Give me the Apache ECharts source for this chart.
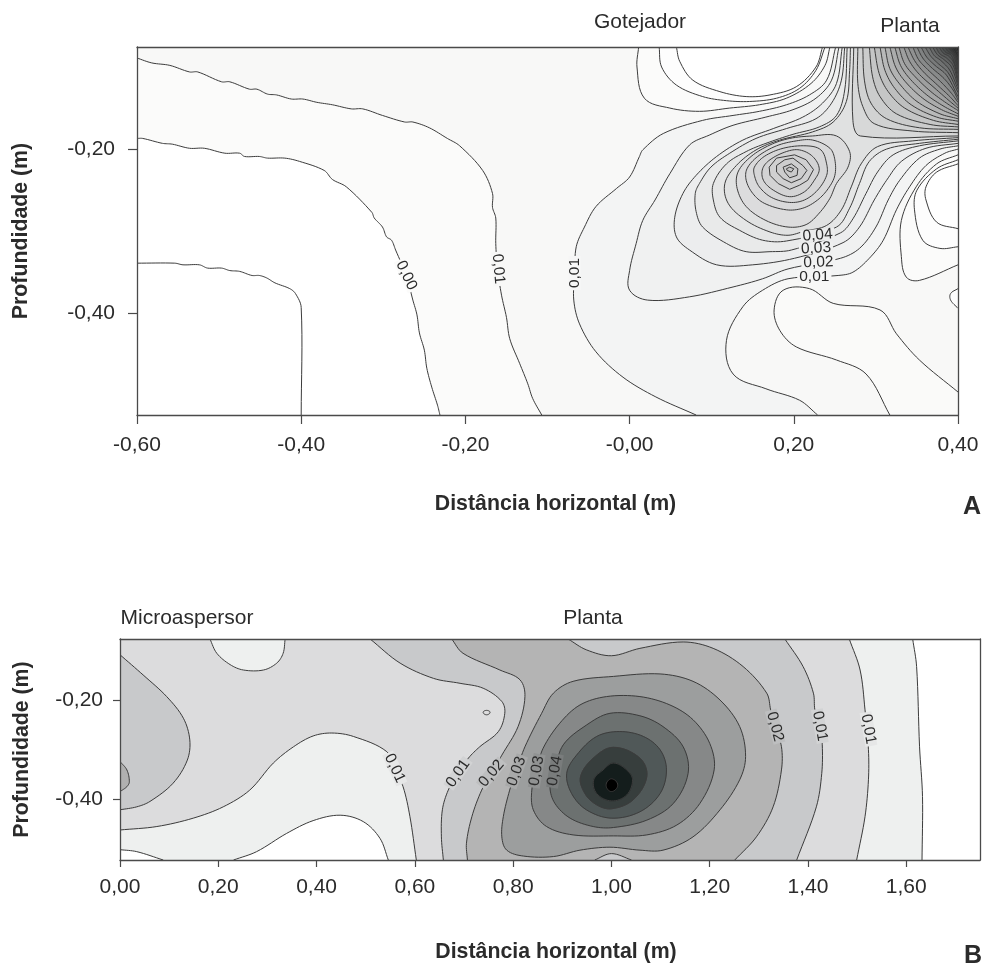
<!DOCTYPE html>
<html>
<head>
<meta charset="utf-8">
<style>html,body{margin:0;padding:0;background:#fff}#c{width:989px;height:965px}</style>
<script src="https://cdn.jsdelivr.net/npm/echarts@6/dist/echarts.min.js"></script>
</head>
<body>
<div id="c"></div>
<script>
// ---------- Axis ticks ----------
const ticksXA = [-0.6,-0.4,-0.2,0,0.2,0.4];
const tickLabelsXA = ['-0,60','-0,40','-0,20','-0,00','0,20','0,40'];
const ticksYA = [-0.4,-0.2];
const tickLabelsYA = ['-0,40','-0,20'];
const ticksXB = [0,0.2,0.4,0.6,0.8,1,1.2,1.4,1.6];
const tickLabelsXB = ['0,00','0,20','0,40','0,60','0,80','1,00','1,20','1,40','1,60'];
const ticksYB = [-0.4,-0.2];
const tickLabelsYB = ['-0,40','-0,20'];
const rangeXA = [-0.6,0.4], rangeYA = [-0.524,-0.0756];
const rangeXB = [0,1.75], rangeYB = [-0.524,-0.075];

// ---------- Panel A contours (distance m, depth m) ----------
const a1 = [[-.6,-.339],[-.554,-.339],[-.544,-.341],[-.524,-.341],[-.514,-.345],[-.497,-.345],[-.487,-.348],[-.475,-.349],[-.46,-.354],[-.451,-.354],[-.442,-.357],[-.432,-.363],[-.414,-.37],[-.407,-.376],[-.4,-.393],[-.4,-.524]];
const a2 = [[-.6,-.187],[-.593,-.187],[-.569,-.193],[-.557,-.194],[-.536,-.199],[-.518,-.199],[-.493,-.205],[-.475,-.205],[-.469,-.209],[-.451,-.209],[-.441,-.211],[-.42,-.211],[-.402,-.215],[-.372,-.226],[-.362,-.237],[-.345,-.246],[-.314,-.277],[-.311,-.284],[-.301,-.295],[-.296,-.307],[-.29,-.311],[-.285,-.323],[-.272,-.354],[-.264,-.384],[-.259,-.402],[-.256,-.424],[-.25,-.445],[-.247,-.467],[-.241,-.49],[-.234,-.512],[-.231,-.524]];
const a3 = [[-.6,-.089],[-.582,-.095],[-.56,-.098],[-.536,-.106],[-.526,-.106],[-.497,-.118],[-.487,-.118],[-.463,-.127],[-.454,-.127],[-.441,-.133],[-.43,-.134],[-.412,-.139],[-.398,-.139],[-.381,-.143],[-.362,-.146],[-.339,-.151],[-.325,-.151],[-.301,-.159],[-.274,-.167],[-.264,-.167],[-.244,-.174],[-.222,-.187],[-.207,-.196],[-.179,-.226],[-.167,-.254],[-.167,-.271],[-.163,-.284],[-.163,-.315],[-.161,-.345],[-.156,-.378],[-.15,-.405],[-.146,-.431],[-.134,-.461],[-.124,-.486],[-.118,-.504],[-.107,-.524]];
const a4 = [[.081,-.524],[.032,-.502],[-.008,-.478],[-.041,-.447],[-.061,-.413],[-.068,-.384],[-.067,-.352],[-.065,-.319],[-.055,-.295],[-.041,-.27],[-.016,-.248],[0,-.234],[.012,-.209],[.016,-.201],[.041,-.181],[.089,-.165],[.126,-.159],[.158,-.154],[.191,-.146],[.219,-.134],[.24,-.116],[.251,-.0756]];
const aB = [[.4,-.2],[.384,-.205],[.361,-.22],[.341,-.246],[.325,-.274],[.309,-.311],[.292,-.333],[.272,-.35],[.254,-.354],[.193,-.358],[.162,-.372],[.138,-.392],[.118,-.433],[.126,-.474],[.166,-.492],[.207,-.506],[.229,-.524]];
const aBB = [[.317,-.524],[.288,-.474],[.252,-.457],[.203,-.441],[.183,-.421],[.176,-.396],[.187,-.372],[.219,-.37],[.248,-.388],[.305,-.396],[.325,-.425],[.353,-.457],[.4,-.496]];
const aL0 = [[.255,-.0756],[.246,-.116],[.227,-.138],[.199,-.152],[.166,-.161],[.126,-.171],[.097,-.183],[.073,-.195],[.049,-.23],[.031,-.262],[.016,-.287],[.008,-.315],[0,-.348],[0,-.372],[.022,-.384],[.073,-.38],[.126,-.368],[.162,-.358],[.193,-.346],[.257,-.333],[.28,-.321],[.3,-.295],[.315,-.262],[.329,-.238],[.353,-.211],[.378,-.2],[.4,-.196]];
const aL1 = [[.259,-.0756],[.252,-.12],[.235,-.144],[.211,-.161],[.175,-.175],[.138,-.189],[.106,-.209],[.081,-.232],[.065,-.254],[.055,-.283],[.057,-.307],[.073,-.323],[.106,-.341],[.15,-.341],[.201,-.333],[.26,-.314],[.28,-.295],[.298,-.262],[.313,-.238],[.331,-.215],[.361,-.199],[.4,-.193]];
const aL2 = [[.262,-.0756],[.258,-.116],[.246,-.144],[.227,-.163],[.191,-.175],[.154,-.187],[.122,-.205],[.099,-.222],[.085,-.242],[.08,-.254],[.081,-.276],[.089,-.295],[.118,-.315],[.142,-.325],[.171,-.325],[.197,-.323],[.257,-.302],[.272,-.285],[.288,-.254],[.302,-.228],[.321,-.207],[.353,-.196],[.4,-.19]];
const aL3 = [[.265,-.0756],[.262,-.128],[.252,-.159],[.231,-.173],[.199,-.182],[.166,-.193],[.142,-.203],[.118,-.218],[.102,-.242],[.102,-.262],[.11,-.283],[.134,-.299],[.162,-.311],[.191,-.312],[.252,-.295],[.268,-.272],[.28,-.242],[.292,-.215],[.313,-.2],[.353,-.193],[.4,-.188]];
const aL4 = [[.269,-.0756],[.268,-.104],[.264,-.142],[.248,-.167],[.223,-.179],[.183,-.189],[.154,-.201],[.13,-.22],[.116,-.242],[.12,-.266],[.142,-.287],[.171,-.301],[.193,-.305],[.213,-.3],[.24,-.293],[.258,-.274],[.27,-.246],[.282,-.218],[.302,-.197],[.345,-.19],[.4,-.186]];
const aC1 = [[.252,-.184],[.268,-.203],[.266,-.222],[.252,-.242],[.244,-.26],[.231,-.278],[.215,-.292],[.193,-.295],[.166,-.287],[.142,-.27],[.131,-.248],[.132,-.228],[.148,-.209],[.171,-.195],[.195,-.187],[.223,-.184]];
const aC2 = [[.223,-.189],[.244,-.199],[.25,-.213],[.25,-.232],[.242,-.248],[.229,-.262],[.211,-.272],[.191,-.274],[.164,-.266],[.15,-.254],[.142,-.238],[.143,-.224],[.156,-.209],[.179,-.196],[.203,-.19]];
const aC3 = [[.215,-.196],[.233,-.201],[.24,-.218],[.24,-.232],[.229,-.25],[.213,-.262],[.195,-.265],[.173,-.259],[.158,-.246],[.152,-.232],[.152,-.222],[.164,-.209],[.187,-.199]];
const aC4 = [[.207,-.201],[.223,-.209],[.231,-.224],[.225,-.238],[.213,-.252],[.195,-.258],[.175,-.25],[.163,-.238],[.162,-.224],[.171,-.213],[.191,-.203]];
const aC5 = [[.201,-.207],[.215,-.213],[.224,-.225],[.217,-.238],[.207,-.244],[.195,-.249],[.181,-.242],[.171,-.232],[.17,-.222],[.179,-.211]];
const aC6 = [[.199,-.211],[.211,-.22],[.216,-.226],[.209,-.236],[.197,-.241],[.187,-.236],[.179,-.228],[.179,-.22],[.189,-.213]];
const aC7 = [[.197,-.218],[.205,-.224],[.204,-.232],[.195,-.235],[.189,-.228],[.187,-.222]];
const aC8 = [[.195,-.222],[.2,-.224],[.197,-.228],[.192,-.226],[.191,-.224]];
const aT1 = [[.011,-.0756],[.009,-.1],[.018,-.138],[.049,-.15],[.085,-.154],[.122,-.15],[.158,-.146],[.191,-.138],[.221,-.12],[.238,-.098],[.244,-.0756]];
const aT2 = [[.036,-.0756],[.039,-.1],[.057,-.122],[.089,-.136],[.118,-.141],[.146,-.142],[.179,-.138],[.207,-.126],[.227,-.104],[.238,-.0756]];
const aT3 = [[.057,-.0756],[.061,-.093],[.077,-.116],[.11,-.13],[.142,-.136],[.171,-.134],[.203,-.124],[.227,-.1],[.235,-.0756]];
const aR1 = [[.4,-.207],[.374,-.218],[.349,-.246],[.331,-.287],[.331,-.331],[.337,-.356],[.353,-.36],[.4,-.341]];
const aR2 = [[.4,-.213],[.374,-.224],[.35,-.25],[.347,-.274],[.357,-.311],[.378,-.321],[.4,-.319]];
const aR3 = [[.4,-.218],[.374,-.228],[.361,-.246],[.361,-.262],[.374,-.289],[.4,-.297]];
const aR4 = [[.4,-.37],[.391,-.376],[.391,-.384],[.4,-.394]];
const s0 = [[.273,-.0756],[.272,-.165],[.281,-.184],[.4,-.184]];
const s1 = [[.278,-.0756],[.278,-.12],[.284,-.148],[.298,-.169],[.345,-.178],[.4,-.18]];
const s2 = [[.284,-.0756],[.286,-.116],[.294,-.144],[.313,-.163],[.353,-.174],[.4,-.176]];
const s3 = [[.292,-.0756],[.296,-.112],[.305,-.136],[.325,-.157],[.366,-.17],[.4,-.173]];
const s4 = [[.298,-.0756],[.304,-.108],[.315,-.13],[.335,-.15],[.37,-.165],[.4,-.17]];
const s5 = [[.305,-.0756],[.311,-.104],[.323,-.126],[.343,-.146],[.374,-.161],[.4,-.166]];
const s6 = [[.311,-.0756],[.317,-.102],[.33,-.122],[.35,-.142],[.378,-.157],[.4,-.163]];
const s7 = [[.317,-.0756],[.324,-.1],[.336,-.118],[.357,-.138],[.38,-.152],[.4,-.16]];
const s8 = [[.323,-.0756],[.33,-.098],[.342,-.115],[.362,-.134],[.383,-.148],[.4,-.157]];
const s9 = [[.328,-.0756],[.335,-.096],[.348,-.112],[.367,-.13],[.386,-.144],[.4,-.153]];
const s10 = [[.334,-.0756],[.341,-.093],[.353,-.109],[.372,-.126],[.388,-.14],[.4,-.15]];
const s11 = [[.339,-.0756],[.347,-.092],[.358,-.106],[.375,-.122],[.39,-.136],[.4,-.147]];
const s12 = [[.345,-.0756],[.352,-.091],[.363,-.103],[.379,-.118],[.392,-.132],[.4,-.143]];
const s13 = [[.35,-.0756],[.357,-.089],[.367,-.1],[.383,-.114],[.394,-.128],[.4,-.14]];
const s14 = [[.355,-.0756],[.362,-.088],[.372,-.098],[.386,-.11],[.4,-.136]];
const s15 = [[.36,-.0756],[.367,-.087],[.375,-.095],[.388,-.107],[.4,-.131]];
const s16 = [[.365,-.0756],[.371,-.086],[.379,-.092],[.39,-.104],[.4,-.127]];
const s17 = [[.369,-.0756],[.375,-.085],[.383,-.091],[.392,-.1],[.4,-.123]];
const s18 = [[.373,-.0756],[.378,-.084],[.386,-.089],[.394,-.098],[.4,-.119]];
const s19 = [[.377,-.0756],[.382,-.083],[.389,-.087],[.395,-.095],[.4,-.115]];
const s20 = [[.38,-.0756],[.385,-.082],[.392,-.086],[.4,-.108]];
const s21 = [[.384,-.0756],[.388,-.081],[.394,-.085],[.4,-.103]];
const s22 = [[.387,-.0756],[.391,-.08],[.396,-.084],[.4,-.098]];
const s23 = [[.389,-.0756],[.393,-.08],[.4,-.093]];
const s24 = [[.392,-.0756],[.395,-.08],[.4,-.089]];
const s25 = [[.394,-.0756],[.397,-.079],[.4,-.085]];
const s26 = [[.397,-.0756],[.4,-.082]];
const contourTextA = ['0,00','0,01','0,01','0,04','0,03','0,02','0,01'];
const contourPosA = [[-.272,-.354],[-.16,-.346],[-.067,-.351],[.229,-.305],[.227,-.321],[.23,-.338],[.225,-.355]];

// ---------- Panel B contours ----------
const bWhiteLeft = [[0,-.503],[.034,-.507],[.088,-.524]];
const bWhiteBlob = [[.231,-.524],[.278,-.507],[.339,-.47],[.393,-.444],[.448,-.433],[.495,-.446],[.529,-.48],[.546,-.524]];
const bRight1 = [[1.632,-.524],[1.633,-.395],[1.627,-.294],[1.621,-.131],[1.613,-.075]];
const bLeft2 = [[0,-.463],[.075,-.456],[.149,-.439],[.21,-.416],[.264,-.382],[.312,-.327],[.353,-.294],[.393,-.272],[.431,-.266],[.475,-.273],[.543,-.304],[.559,-.341],[.576,-.375],[.59,-.436],[.603,-.524]];
const bRight2 = [[1.499,-.524],[1.516,-.436],[1.523,-.361],[1.523,-.3],[1.516,-.219],[1.506,-.138],[1.484,-.075]];
const bTopBlob = [[.183,-.075],[.197,-.104],[.224,-.127],[.251,-.138],[.292,-.138],[.319,-.124],[.332,-.104],[.336,-.075]];
const bLeft3 = [[.509,-.075],[.57,-.124],[.638,-.155],[.692,-.165],[.739,-.175],[.777,-.202],[.783,-.226],[.77,-.263],[.732,-.294],[.709,-.317],[.688,-.348],[.668,-.382],[.656,-.422],[.654,-.477],[.658,-.524]];
const bRight3 = [[1.377,-.524],[1.417,-.416],[1.428,-.348],[1.429,-.29],[1.424,-.253],[1.414,-.219],[1.411,-.185],[1.39,-.131],[1.353,-.075]];
const bEdge3 = [[0,-.107],[.047,-.148],[.095,-.192],[.129,-.236],[.142,-.28],[.137,-.321],[.108,-.368],[.061,-.405],[.034,-.416],[0,-.422]];
const bEdge4 = [[0,-.324],[.014,-.341],[.019,-.365],[.014,-.375],[0,-.385]];
const bLeft4 = [[.675,-.075],[.698,-.104],[.773,-.138],[.814,-.158],[.824,-.192],[.81,-.253],[.777,-.311],[.756,-.348],[.736,-.382],[.716,-.436],[.705,-.49],[.707,-.524]];
const bRight4 = [[1.251,-.524],[1.295,-.477],[1.329,-.416],[1.346,-.341],[1.346,-.294],[1.333,-.253],[1.324,-.219],[1.316,-.185],[1.268,-.131],[1.207,-.094],[1.146,-.081],[1.058,-.094],[1,-.109],[.949,-.097],[.912,-.075]];
const bBump = [[.966,-.524],[1,-.511],[1.041,-.524]];
const bRing5 = [[.777,-.477],[.787,-.504],[.821,-.516],[.882,-.517],[.936,-.504],[.997,-.498],[1.058,-.504],[1.105,-.504],[1.166,-.477],[1.221,-.422],[1.261,-.361],[1.273,-.314],[1.261,-.253],[1.221,-.199],[1.166,-.161],[1.099,-.146],[1.004,-.151],[.922,-.161],[.882,-.185],[.858,-.226],[.824,-.294],[.807,-.341],[.793,-.382],[.78,-.436]];
const bRing6 = [[.838,-.382],[.841,-.422],[.868,-.456],[.922,-.473],[1.004,-.475],[1.072,-.473],[1.133,-.453],[1.18,-.409],[1.209,-.341],[1.2,-.287],[1.166,-.239],[1.119,-.209],[1.058,-.192],[.99,-.192],[.936,-.209],[.895,-.246],[.861,-.297],[.848,-.341]];
const bRing7 = [[.875,-.375],[.885,-.409],[.916,-.439],[.963,-.456],[1.004,-.458],[1.072,-.443],[1.126,-.409],[1.156,-.348],[1.146,-.294],[1.105,-.253],[1.058,-.231],[.997,-.226],[.949,-.25],[.902,-.29],[.885,-.341]];
const bRing8 = [[.909,-.348],[.919,-.389],[.949,-.422],[1,-.439],[1.058,-.426],[1.099,-.389],[1.112,-.341],[1.099,-.3],[1.065,-.273],[1.017,-.263],[.97,-.273],[.929,-.311]];
const bRing9 = [[.937,-.355],[.946,-.389],[.97,-.412],[1,-.42],[1.044,-.402],[1.072,-.355],[1.058,-.317],[1.004,-.295],[.963,-.317]];
const bRing10 = [[.964,-.361],[.97,-.389],[1,-.404],[1.031,-.392],[1.043,-.361],[1.031,-.341],[1.004,-.327],[.983,-.341]];
const bRing11 = [[.989,-.372],[1,-.359],[1.013,-.372],[1,-.385]];
const bDot = [[.739,-.224],[.746,-.22],[.753,-.224],[.746,-.229]];
const contourTextB = ['0,01','0,01','0,02','0,03','0,03','0,04','0,02','0,01','0,01'];
const contourPosB = [[.559,-.338],[.688,-.348],[.756,-.348],[.807,-.344],[.848,-.343],[.885,-.343],[1.333,-.253],[1.424,-.252],[1.523,-.258]];

// ---------- Styling and assembly ----------
const FONT = '"Liberation Sans", Arial, sans-serif';
const INK = '#2b2b2b', LINE = '#3c3c3c', AXIS = '#4a4a4a';
const sFamily = [s0,s1,s2,s3,s4,s5,s6,s7,s8,s9,s10,s11,s12,s13,s14,s15,s16,s17,s18,s19,s20,s21,s22,s23,s24,s25,s26];
const sGrays = ['#d7d8d8','#d1d2d2','#cbcccc','#c5c6c6','#bebfbf','#b8b9b9','#b2b3b3','#abacac','#a5a6a6','#9e9f9f','#979898','#909191','#888a8a','#808282','#787a7a','#707272','#686a6a','#606262','#585a5a','#505353','#494c4c','#424545','#3b3e3e','#343737','#2d3030','#262929','#1f2222'];
const aTop = rangeYA[1], aBot = rangeYA[0], aRight = rangeXA[1];
const TR = [[aRight,aTop]], BR = [[aRight,aBot]], TL = [[rangeXA[0],aTop]];
// A region: [list of boundary pieces, fill, closedRing, keepAngular]
const fillsA = [
  [[a2,BR,TR,TL],'#fbfbfa'],
  [[a3,BR,TR,TL],'#f8f8f7'],
  [[a4,TR,aB],'#f3f4f4'],
  [[aBB,BR],'#fafaf9'],
  [[aL0,TR],'#f0f1f1'],
  [[aL1,TR],'#ecedee'],
  [[aL2,TR],'#e9eaea'],
  [[aL3,TR],'#e5e6e6'],
  [[aL4,TR],'#e0e1e1'],
  ...sFamily.map((s,i)=>[[s,TR],sGrays[i]]),
  [[aC1],'#dcdcdd',1],[[aC2],'#d9d9da',1],[[aC3],'#d6d6d7',1],[[aC4],'#d3d3d4',1],
  [[aC5],'#d0d0d1',1,1],[[aC6],'#cdcdce',1,1],[[aC7],'#cacacb',1,1],[[aC8],'#c6c6c7',1,1],
  [[aT1],'#fbfbfa'],[[aT2],'#fdfdfd'],[[aT3],'#ffffff'],
  [[aR1],'#fbfbfa'],[[aR2],'#fdfdfd'],[[aR3],'#ffffff'],[[aR4],'#fdfdfd']
];
const linesA = [[a1],[a2],[a3],[a4],[aB],[aBB],[aL0],[aL1],[aL2],[aL3],[aL4],...sFamily.map(s=>[s]),
  [aC1,1],[aC2,1],[aC3,1],[aC4,1],[aC5,1,1],[aC6,1,1],[aC7,1,1],[aC8,1,1],[aT1],[aT2],[aT3],[aR1],[aR2],[aR3],[aR4]];
const labelStyleA = [[-65,'#fbfbfa'],[-85,'#f8f8f7'],[90,'#f6f6f6'],[5,'#eceded'],[3,'#eff0f0'],[2,'#f2f3f3'],[0,'#f6f6f6']];

const bTop = rangeYB[1], bLeftEdge = rangeXB[0];
const BTL = [[bLeftEdge,bTop]];
const fillsB = [
  [[bWhiteLeft,bWhiteBlob,bRight1,BTL],'#eef0ef'],
  [[BTL,bLeft2,bRight2],'#dcdcdd'],
  [[bTopBlob],'#eef0ef'],
  [[bLeft3,bRight3],'#c8c9cb'],
  [[bEdge3],'#c8c9cb'],
  [[bEdge4],'#b0b0b0'],
  [[bLeft4,bRight4],'#b4b4b4'],
  [[bBump],'#c8c9cb'],
  [[bRing5],'#9c9e9e',1],[[bRing6],'#868888',1],[[bRing7],'#6c7170',1],[[bRing8],'#505858',1],[[bRing9],'#373e3d',1],[[bRing10],'#141d1c',1],[[bRing11],'#000000',1],
  [[bDot],'#dcdcdd',1]
];
const linesB = [[bWhiteLeft],[bWhiteBlob],[bRight1],[bLeft2],[bRight2],[bTopBlob],[bLeft3],[bRight3],[bEdge3],[bEdge4],[bLeft4],[bRight4],[bBump],
  [bRing5,1],[bRing6,1],[bRing7,1],[bRing8,1],[bRing9,1],[bRing10,1],[bRing11,1],[bDot,1]];
const labelStyleB = [[-65,'#e6e7e7'],[55,'#d2d3d4'],[50,'#bebfc0'],[70,'#a8a9a9'],[80,'#919393'],[80,'#797c7c'],[-75,'#bebfc0'],[-80,'#d2d3d4'],[-80,'#e6e7e7']];

// Draws a curve through the pixel positions the axes gave for a contour's points.
function curve(p, closed){
  const n=p.length, out=[p[0]], segs=closed?n:n-1;
  const tan=i=>{const a=closed?p[(i-1+n)%n]:p[Math.max(i-1,0)],b=closed?p[(i+1)%n]:p[Math.min(i+1,n-1)];
    const dx=b[0]-a[0],dy=b[1]-a[1],d=Math.hypot(dx,dy)||1;return [dx/d,dy/d];};
  for(let i=0;i<segs;i++){
    const a=p[i],b=p[(i+1)%n],d=Math.hypot(b[0]-a[0],b[1]-a[1])/3,t0=tan(i),t1=tan((i+1)%n);
    const c1=[a[0]+t0[0]*d,a[1]+t0[1]*d],c2=[b[0]-t1[0]*d,b[1]-t1[1]*d];
    for(let k=1;k<=8;k++){const t=k/8,u=1-t;
      out.push([u*u*u*a[0]+3*u*u*t*c1[0]+3*u*t*t*c2[0]+t*t*t*b[0],u*u*u*a[1]+3*u*u*t*c1[1]+3*u*t*t*c2[1]+t*t*t*b[1]]);}
  }
  return out;
}
function fillSeries(fills, ai){
  return {type:'custom',coordinateSystem:'cartesian2d',xAxisIndex:ai,yAxisIndex:ai,clip:true,silent:true,z:2,
    data:fills.map((f,i)=>[i]),
    renderItem:(p,api)=>{const f=fills[api.value(0)];let pts=[];
      f[0].forEach(seg=>{const px=seg.map(q=>api.coord(q));
        pts=pts.concat(f[3]?px:(px.length>=3?curve(px,!!f[2]):px));});
      return {type:'polygon',shape:{points:pts},style:{fill:f[1],stroke:f[1],lineWidth:0.5}};}};
}
function lineSeries(lines, ai, color){
  return {type:'custom',coordinateSystem:'cartesian2d',xAxisIndex:ai,yAxisIndex:ai,clip:true,silent:true,z:3,
    data:lines.map((f,i)=>[i]),
    renderItem:(p,api)=>{const l=lines[api.value(0)];let pts=l[0].map(q=>api.coord(q));
      if(l[2]){pts.push(pts[0]);}else if(pts.length>=3){pts=curve(pts,!!l[1]);}
      return {type:'polyline',shape:{points:pts},style:{fill:'none',stroke:color,lineWidth:1}};}};
}
function labelSeries(texts,pos,styles,ai,size){
  return {type:'custom',coordinateSystem:'cartesian2d',xAxisIndex:ai,yAxisIndex:ai,silent:true,z:4,
    data:pos.map((f,i)=>[i]),
    renderItem:(p,api)=>{const i=api.value(0);const c=api.coord(pos[i]);
      return {type:'text',x:c[0],y:c[1],rotation:styles[i][0]*Math.PI/180,
        style:{text:texts[i],fill:INK,font:size+'px '+FONT,align:'center',verticalAlign:'middle',backgroundColor:styles[i][1],padding:[0,2],lineHeight:12}};}};
}
function lookup(ticks,labels){return v=>{const i=ticks.findIndex(t=>Math.abs(t-v)<1e-6);return i<0?'':labels[i];};}
const line={show:true,onZero:false,lineStyle:{color:AXIS,width:1.3}};
function xAxis(g,range,ticks,labels,gapPad,gap,tick,margin){return {type:'value',gridIndex:g,min:range[0],max:range[1],position:'bottom',z:6,scale:true,
  axisLine:line,splitLine:{show:false},
  axisTick:{show:true,length:tick,customValues:ticks,lineStyle:{color:AXIS,width:1.2}},
  axisLabel:{show:true,customValues:ticks,formatter:lookup(ticks,labels),color:INK,fontFamily:FONT,fontSize:21,margin:margin,hideOverlap:false,showMinLabel:true,showMaxLabel:true},
  name:'Distância horizontal (m)',nameLocation:'middle',nameGap:gap,nameTextStyle:{fontFamily:FONT,fontWeight:'bold',fontSize:21.3,color:INK,padding:[0,0,0,gapPad]}};}
function yAxis(g,range,ticks,labels,gap,tick,margin){return {type:'value',gridIndex:g,min:range[0],max:range[1],position:'left',z:6,scale:true,
  axisLine:line,splitLine:{show:false},
  axisTick:{show:true,length:tick,customValues:ticks,lineStyle:{color:AXIS,width:1.2}},
  axisLabel:{show:true,customValues:ticks,formatter:lookup(ticks,labels),color:INK,fontFamily:FONT,fontSize:21,margin:margin,showMinLabel:true,showMaxLabel:true},
  name:'Profundidade (m)',nameLocation:'middle',nameRotate:90,nameGap:gap,nameTextStyle:{fontFamily:FONT,fontWeight:'bold',fontSize:21.3,color:INK}};}
function frameAxis(g,range,pos){return {type:'value',gridIndex:g,min:range[0],max:range[1],position:pos,z:6,scale:true,axisLine:line,axisTick:{show:false},axisLabel:{show:false},splitLine:{show:false}};}
function note(text,x,y,bold,size){return {type:'text',x:x,y:y,silent:true,style:{text:text,fill:INK,font:(bold?'bold ':'')+size+'px '+FONT,align:'center',verticalAlign:'middle'}};}

const chart=echarts.init(document.getElementById('c'),null,{renderer:'canvas'});
chart.setOption({
  animation:false,backgroundColor:'#ffffff',
  grid:[{left:137,top:47,width:821,height:368,containLabel:false},{left:120,top:639,width:860,height:221,containLabel:false}],
  xAxis:[xAxis(0,rangeXA,ticksXA,tickLabelsXA,16,79,9,20),xAxis(1,rangeXB,ticksXB,tickLabelsXB,12,82,7,17),frameAxis(0,rangeXA,'top'),frameAxis(1,rangeXB,'top')],
  yAxis:[yAxis(0,rangeYA,ticksYA,tickLabelsYA,105,9,22),yAxis(1,rangeYB,ticksYB,tickLabelsYB,87,7,17),frameAxis(0,rangeYA,'right'),frameAxis(1,rangeYB,'right')],
  series:[fillSeries(fillsA,0),lineSeries(linesA,0,LINE),labelSeries(contourTextA,contourPosA,labelStyleA,0,15.5),
          fillSeries(fillsB,1),lineSeries(linesB,1,LINE),labelSeries(contourTextB,contourPosB,labelStyleB,1,15.5)],
  graphic:[note('Gotejador',640,22,false,21),note('Planta',910,26,false,21),note('A',972,507,true,25),
           note('Microaspersor',187,618,false,21),note('Planta',593,618,false,21),note('B',973,956,true,25)]
});
</script>
</body>
</html>
